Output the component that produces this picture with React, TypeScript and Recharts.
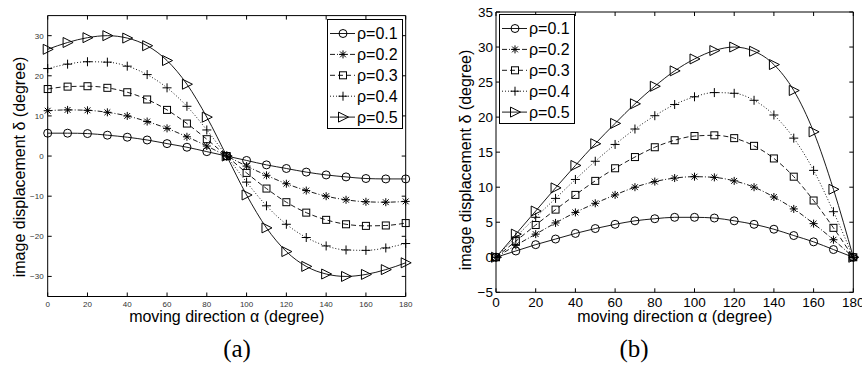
import { Legend, Line, LineChart, ReferenceArea, XAxis, YAxis } from 'recharts';

// moving direction alpha (degree)
const alpha = [0, 10, 20, 30, 40, 50, 60, 70, 80, 90, 100, 110, 120, 130, 140, 150, 160, 170, 180];
const seriesNames = ['ρ=0.1', 'ρ=0.2', 'ρ=0.3', 'ρ=0.4', 'ρ=0.5'];

// panel (a): image displacement
const aRho1 = [5.7, 5.7, 5.6, 5.2, 4.7, 4.0, 3.1, 2.2, 1.1, 0, -1.1, -2.2, -3.1, -4.0, -4.7, -5.2, -5.6, -5.7, -5.7];
const aRho2 = [11.3, 11.5, 11.4, 10.9, 10.0, 8.6, 6.9, 4.8, 2.5, 0, -2.5, -4.8, -6.9, -8.6, -10.0, -10.9, -11.4, -11.5, -11.3];
const aRho3 = [16.7, 17.3, 17.4, 17.0, 15.9, 14.1, 11.5, 8.1, 4.2, 0, -4.2, -8.1, -11.5, -14.1, -15.9, -17.0, -17.4, -17.3, -16.7];
const aRho4 = [21.8, 22.9, 23.5, 23.4, 22.4, 20.3, 17.0, 12.4, 6.5, 0, -6.5, -12.4, -17.0, -20.3, -22.4, -23.4, -23.5, -22.9, -21.8];
const aRho5 = [26.6, 28.3, 29.5, 30.0, 29.4, 27.5, 23.8, 17.9, 9.7, 0, -9.7, -17.9, -23.8, -27.5, -29.4, -30.0, -29.5, -28.3, -26.6];

// panel (b): image displacement
const bRho1 = [0, 0.9, 1.8, 2.6, 3.4, 4.1, 4.7, 5.2, 5.5, 5.7, 5.7, 5.6, 5.2, 4.7, 4.0, 3.1, 2.2, 1.1, 0];
const bRho2 = [0, 1.7, 3.3, 4.9, 6.4, 7.7, 8.9, 10.0, 10.8, 11.3, 11.5, 11.4, 10.9, 10.0, 8.6, 6.9, 4.8, 2.5, 0];
const bRho3 = [0, 2.3, 4.6, 6.8, 8.9, 10.9, 12.7, 14.3, 15.7, 16.7, 17.3, 17.4, 17.0, 15.9, 14.1, 11.5, 8.1, 4.2, 0];
const bRho4 = [0, 2.9, 5.7, 8.4, 11.1, 13.7, 16.1, 18.3, 20.2, 21.8, 22.9, 23.5, 23.4, 22.4, 20.3, 17.0, 12.4, 6.5, 0];
const bRho5 = [0, 3.3, 6.6, 9.9, 13.1, 16.2, 19.1, 21.9, 24.4, 26.6, 28.3, 29.5, 30.0, 29.4, 27.5, 23.8, 17.9, 9.7, 0];

const xTicks = [0, 20, 40, 60, 80, 100, 120, 140, 160, 180];
const yTicksA = [-30, -20, -10, 0, 10, 20, 30];
const yTicksB = [-5, 0, 5, 10, 15, 20, 25, 30, 35];

const buildRows = (cols: number[][]) =>
  alpha.map((a, i) => ({ alpha: a, r1: cols[0][i], r2: cols[1][i], r3: cols[2][i], r4: cols[3][i], r5: cols[4][i] }));

const dataA = buildRows([aRho1, aRho2, aRho3, aRho4, aRho5]);
const dataB = buildRows([bRho1, bRho2, bRho3, bRho4, bRho5]);

type Shape = 'circle' | 'star' | 'square' | 'plus' | 'triangle';

const seriesStyles: { key: string; shape: Shape; dash?: string }[] = [
  { key: 'r1', shape: 'circle' },
  { key: 'r2', shape: 'star', dash: '5 2 1 2' },
  { key: 'r3', shape: 'square', dash: '5 3' },
  { key: 'r4', shape: 'plus', dash: '1 2' },
  { key: 'r5', shape: 'triangle' },
];

const H = 365;
const SANS = '"Liberation Sans", Arial, sans-serif';
const minus = (v: number) => String(v).replace('-', '\u2212');

function Marker({ cx, cy, shape }: { cx: number; cy: number; shape: Shape }) {
  if (cx == null || cy == null || isNaN(cx) || isNaN(cy)) return <g />;
  const st = { stroke: '#000', strokeWidth: 1, fill: 'none' };
  if (shape === 'circle') return <circle cx={cx} cy={cy} r={4} {...st} />;
  if (shape === 'square') return <rect x={cx - 3.5} y={cy - 3.5} width={7} height={7} {...st} />;
  if (shape === 'triangle')
    return <polygon points={`${cx - 4.5},${cy - 5} ${cx - 4.5},${cy + 5} ${cx + 5.5},${cy}`} {...st} />;
  if (shape === 'plus')
    return (
      <path d={`M${cx - 4.5},${cy}H${cx + 4.5}M${cx},${cy - 4.5}V${cy + 4.5}`} {...st} />
    );
  const d = 2.9;
  return (
    <path
      d={`M${cx - 4},${cy}H${cx + 4}M${cx},${cy - 4}V${cy + 4}M${cx - d},${cy - d}L${cx + d},${cy + d}M${cx - d},${cy + d}L${cx + d},${cy - d}`}
      {...st}
    />
  );
}

function LegendBox() {
  return (
    <svg width={77} height={111} style={{ display: 'block' }}>
      <rect x={0.5} y={0.5} width={75} height={109} fill="#fff" stroke="#000" strokeWidth={1} />
      {seriesStyles.map((s, i) => {
        const cy = 14.5 + i * 20.9;
        return (
          <g key={s.key}>
            <line x1={3} x2={28} y1={cy} y2={cy} stroke="#000" strokeWidth={0.9} strokeDasharray={s.dash} />
            <Marker cx={16} cy={cy} shape={s.shape} />
            <text x={30} y={cy + 5.6} fontSize={16} fontFamily={SANS} fill="#000">
              {seriesNames[i]}
            </text>
          </g>
        );
      })}
    </svg>
  );
}

interface PanelCfg {
  left: number;
  width: number;
  plotLeft: number;
  plotRight: number;
  plotTop: number;
  plotBottom: number;
  yDomain: [number, number];
  yTicks: number[];
  tickSize: number;
  tickColor: string;
  xTickDy: number;
  yTickGap: number;
  yTickDy: number;
  xTitle: { x: number; y: number };
  yTitle: { x: number; y: number };
  caption: { text: string; x: number; y: number };
  legend: { left: number; top: number };
  data: typeof dataA;
}

function Titles({ cfg }: { cfg: PanelCfg }) {
  return (
    <g>
      <text x={cfg.xTitle.x} y={cfg.xTitle.y} textAnchor="middle" fontSize={16} fontFamily={SANS} fill="#000">
        moving direction α (degree)
      </text>
      <text
        x={cfg.yTitle.x}
        y={cfg.yTitle.y}
        textAnchor="middle"
        fontSize={16}
        fontFamily={SANS}
        fill="#000"
        transform={`rotate(-90 ${cfg.yTitle.x} ${cfg.yTitle.y})`}
      >
        image displacement δ (degree)
      </text>
      <text
        x={cfg.caption.x}
        y={cfg.caption.y}
        textAnchor="middle"
        fontSize={25}
        fontFamily='"Liberation Serif", "DejaVu Serif", serif'
        fill="#000"
      >
        {cfg.caption.text}
      </text>
    </g>
  );
}

function Panel({ cfg }: { cfg: PanelCfg }) {
  const xTick = (t: any) => (
    <g>
      <line x1={t.x} x2={t.x} y1={cfg.plotBottom} y2={cfg.plotBottom - 4} stroke="#000" />
      <line x1={t.x} x2={t.x} y1={cfg.plotTop} y2={cfg.plotTop + 4} stroke="#000" />
      <text x={t.x} y={cfg.plotBottom + cfg.xTickDy} textAnchor="middle" fontSize={cfg.tickSize} fontFamily={SANS} fill={cfg.tickColor}>
        {minus(t.payload.value)}
      </text>
    </g>
  );
  const yTick = (t: any) => (
    <g>
      <line x1={cfg.plotLeft} x2={cfg.plotLeft + 4} y1={t.y} y2={t.y} stroke="#000" />
      <line x1={cfg.plotRight} x2={cfg.plotRight - 4} y1={t.y} y2={t.y} stroke="#000" />
      <text x={cfg.plotLeft - cfg.yTickGap} y={t.y + cfg.yTickDy} textAnchor="end" fontSize={cfg.tickSize} fontFamily={SANS} fill={cfg.tickColor}>
        {minus(t.payload.value)}
      </text>
    </g>
  );

  return (
    <div style={{ position: 'absolute', left: cfg.left, top: 0 }}>
      <LineChart
        width={cfg.width}
        height={H}
        data={cfg.data}
        margin={{ top: cfg.plotTop, right: cfg.width - cfg.plotRight, left: 0, bottom: H - cfg.plotBottom - 30 }}
      >
        <XAxis
          dataKey="alpha"
          type="number"
          domain={[0, 180]}
          ticks={xTicks}
          height={30}
          tickSize={0}
          tickMargin={0}
          axisLine={false}
          tickLine={false}
          tick={xTick}
          interval={0}
          label={<Titles cfg={cfg} />}
        />
        <YAxis
          type="number"
          domain={cfg.yDomain}
          ticks={cfg.yTicks}
          width={cfg.plotLeft}
          tickSize={0}
          tickMargin={0}
          axisLine={false}
          tickLine={false}
          tick={yTick}
          interval={0}
          allowDataOverflow
        />
        <ReferenceArea
          x1={0}
          x2={180}
          y1={cfg.yDomain[0]}
          y2={cfg.yDomain[1]}
          fill="none"
          stroke="#000"
          strokeWidth={1}
          ifOverflow="visible"
        />
        {seriesStyles.map((s) => (
          <Line
            key={s.key}
            type="monotone"
            dataKey={s.key}
            stroke="#000"
            strokeWidth={0.9}
            strokeDasharray={s.dash}
            dot={(d: any) => <Marker key={`${s.key}-${d.index}`} cx={d.cx} cy={d.cy} shape={s.shape} />}
            activeDot={false}
            isAnimationActive={false}
          />
        ))}
        <Legend
          layout="vertical"
          align="center"
          verticalAlign="middle"
          wrapperStyle={{ left: cfg.legend.left, top: cfg.legend.top, width: 77, height: 111 }}
          content={() => <LegendBox />}
        />
      </LineChart>
    </div>
  );
}

const panelA: PanelCfg = {
  left: 0,
  width: 430,
  plotLeft: 47.7,
  plotRight: 405.7,
  plotTop: 15.6,
  plotBottom: 296.5,
  yDomain: [-35, 35],
  yTicks: yTicksA,
  tickSize: 8,
  tickColor: '#333',
  xTickDy: 10.5,
  yTickGap: 4,
  yTickDy: 3,
  xTitle: { x: 226.7, y: 322 },
  yTitle: { x: 25, y: 167 },
  caption: { text: '(a)', x: 237, y: 357 },
  legend: { left: 327, top: 19 },
  data: dataA,
};

const panelB: PanelCfg = {
  left: 430,
  width: 432,
  plotLeft: 66,
  plotRight: 423.3,
  plotTop: 12,
  plotBottom: 292.3,
  yDomain: [-5, 35],
  yTicks: yTicksB,
  tickSize: 13.5,
  tickColor: '#000',
  xTickDy: 14.8,
  yTickGap: 3,
  yTickDy: 5,
  xTitle: { x: 244.7, y: 322 },
  yTitle: { x: 41, y: 160 },
  caption: { text: '(b)', x: 204, y: 357 },
  legend: { left: 69.3, top: 14.3 },
  data: dataB,
};

export default function App() {
  return (
    <div style={{ position: 'absolute', left: 0, top: 0, width: 862, height: H, background: '#fff', overflow: 'hidden' }}>
      <Panel cfg={panelA} />
      <Panel cfg={panelB} />
    </div>
  );
}
